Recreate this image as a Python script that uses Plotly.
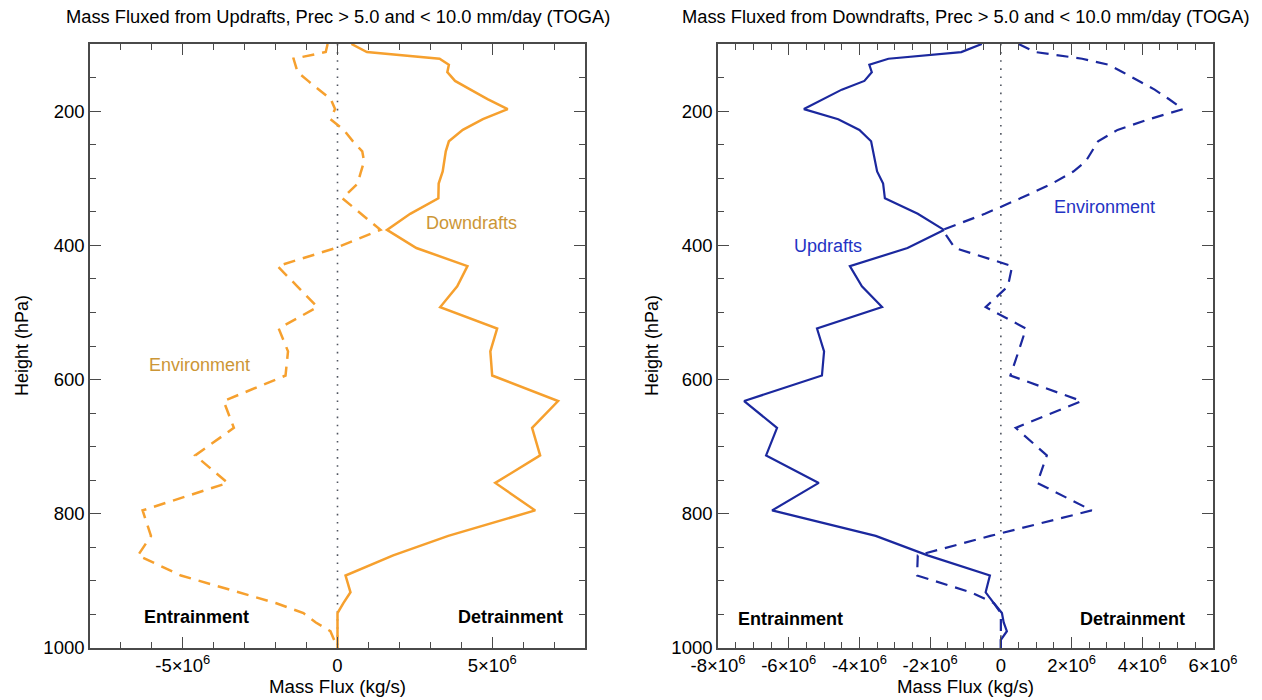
import plotly.graph_objects as go

# Pressure levels (hPa) shared by all profiles
pressure = [100, 112, 122, 131, 142, 155, 168, 182, 197, 212, 228, 245, 260, 275, 290,
            308, 330, 353, 377, 404, 431, 461, 492, 524, 558, 594, 632, 672, 713, 754,
            795, 833, 862, 892, 917, 933, 948, 962, 975, 988, 1000]

# Left panel: mass fluxed from updrafts (units of 1e6 kg/s)
up_downdrafts = [0.45, 0.95, 3.3, 3.6, 3.55, 3.8, 4.3, 4.85, 5.5, 4.7, 4.05, 3.6, 3.5, 3.45, 3.4,
                 3.27, 3.26, 2.35, 1.6, 2.55, 4.2, 3.87, 3.32, 5.16, 4.94, 5.0, 7.13, 6.29, 6.55, 5.1,
                 6.39, 3.58, 1.8, 0.26, 0.42, 0.19, 0.0, 0.0, 0.0, 0.0, 0.0]
up_environment = [-0.32, -0.38, -1.42, -1.35, -1.29, -0.95, -0.6, -0.22, -0.08, -0.23, 0.2, 0.5, 0.8, 0.86, 0.76,
                  0.65, 0.16, 0.75, 1.39, -0.06, -1.94, -1.3, -0.65, -1.9, -1.6, -1.68, -3.68, -3.35, -4.6, -3.55,
                  -6.3, -6.03, -6.45, -5.06, -3.2, -2.0, -1.1, -0.7, -0.23, -0.1, 0.0]

# Right panel: mass fluxed from downdrafts (units of 1e6 kg/s)
dn_updrafts = [-0.54, -1.12, -3.18, -3.72, -3.65, -3.86, -4.5, -5.0, -5.57, -4.6, -4.0, -3.67, -3.62, -3.57, -3.5,
               -3.33, -3.28, -2.35, -1.61, -2.64, -4.27, -3.93, -3.36, -5.2, -5.0, -5.06, -7.26, -6.33, -6.64, -5.15,
               -6.47, -3.54, -2.07, -0.31, -0.43, -0.2, 0.03, 0.08, 0.17, 0.0, 0.0]
dn_environment = [0.5, 0.98, 2.3, 3.05, 3.45, 3.9, 4.35, 4.75, 5.15, 4.2, 3.3, 2.75, 2.58, 2.4, 2.05,
                  1.45, 0.55, -0.45, -1.65, -1.3, 0.32, 0.2, -0.43, 0.71, 0.5, 0.27, 2.28, 0.42, 1.3, 1.03,
                  2.57, -0.3, -2.35, -2.37, -0.85, -0.2, 0.0, 0.0, 0.0, 0.0, 0.0]

SCALE = 1e6
left_title = "Mass Fluxed from Updrafts, Prec > 5.0 and < 10.0 mm/day (TOGA)"
right_title = "Mass Fluxed from Downdrafts, Prec > 5.0 and < 10.0 mm/day (TOGA)"

left_xticks = [-5e6, 0, 5e6]
left_xlabels = ["-5×10<sup>6</sup>", "0", "5×10<sup>6</sup>"]
right_xticks = [-8e6, -6e6, -4e6, -2e6, 0, 2e6, 4e6, 6e6]
right_xlabels = ["-8×10<sup>6</sup>", "-6×10<sup>6</sup>", "-4×10<sup>6</sup>", "-2×10<sup>6</sup>",
                 "0", "2×10<sup>6</sup>", "4×10<sup>6</sup>", "6×10<sup>6</sup>"]
yticks = [200, 400, 600, 800, 1000]

ORANGE = "#F6A02E"
ORANGE_TEXT = "#CC9636"
BLUE = "#1B289E"
BLUE_TEXT = "#2433C4"
FONT = "Liberation Sans, Arial, sans-serif"
FRAME = "#4a4a4a"

fig = go.Figure()

def scaled(vals):
    return [v * SCALE for v in vals]

fig.add_trace(go.Scatter(x=scaled(up_downdrafts), y=pressure, mode="lines",
                         line=dict(color=ORANGE, width=2.5), xaxis="x", yaxis="y"))
fig.add_trace(go.Scatter(x=scaled(up_environment), y=pressure, mode="lines",
                         line=dict(color=ORANGE, width=2.5, dash="12px,8px"), xaxis="x", yaxis="y"))
fig.add_trace(go.Scatter(x=scaled(dn_updrafts), y=pressure, mode="lines",
                         line=dict(color=BLUE, width=2.2), xaxis="x2", yaxis="y2"))
fig.add_trace(go.Scatter(x=scaled(dn_environment), y=pressure, mode="lines",
                         line=dict(color=BLUE, width=2.2, dash="12px,8px"), xaxis="x2", yaxis="y2"))

# zero reference lines
for xr, yr in (("x", "y"), ("x2", "y2")):
    fig.add_shape(type="line", xref=xr, yref=yr, x0=0, x1=0, y0=100, y1=1000,
                  line=dict(color="#505560", width=1.6, dash="1.6px,6.5px"), layer="below")

W, H = 1262, 700
ldom = [90 / W, 585 / W]
rdom = [718 / W, 1213 / W]
ydom = [1 - 648 / H, 1 - 44 / H]
TICK_SIZE = 18.5

def xaxis(dom, rng, tv, tt, minor_dtick, anchor):
    return dict(domain=dom, range=rng, tickmode="array", tickvals=tv, ticktext=tt,
                ticks="inside", ticklen=11, tickwidth=1.3, tickcolor=FRAME,
                minor=dict(dtick=minor_dtick, tick0=0, ticks="inside", ticklen=6,
                           tickwidth=1.3, tickcolor=FRAME),
                showline=True, linecolor=FRAME, linewidth=1.6, mirror="ticks",
                showgrid=False, zeroline=False, anchor=anchor, automargin=False,
                tickfont=dict(family=FONT, size=TICK_SIZE, color="black"))

def yaxis(anchor):
    return dict(domain=ydom, range=[1000, 100], tickmode="array", tickvals=yticks,
                ticktext=[str(v) for v in yticks],
                ticks="inside", ticklen=11, tickwidth=1.3, tickcolor=FRAME,
                minor=dict(dtick=50, tick0=0, ticks="inside", ticklen=6,
                           tickwidth=1.3, tickcolor=FRAME),
                showline=True, linecolor=FRAME, linewidth=1.6, mirror="ticks",
                showgrid=False, zeroline=False, anchor=anchor, automargin=False,
                tickfont=dict(family=FONT, size=TICK_SIZE, color="black"))

fig.update_layout(
    width=W, height=H, margin=dict(l=0, r=0, t=0, b=0, autoexpand=False),
    paper_bgcolor="white", plot_bgcolor="white", showlegend=False,
    xaxis=xaxis(ldom, [-8e6, 8e6], left_xticks, left_xlabels, 1e6, "y"),
    yaxis=yaxis("x"),
    xaxis2=xaxis(rdom, [-8e6, 6e6], right_xticks, right_xlabels, 5e5, "y2"),
    yaxis2=yaxis("x2"),
)

ann = []
lc = (ldom[0] + ldom[1]) / 2
rc = (rdom[0] + rdom[1]) / 2

def paper_text(text, x, y, size, angle=0):
    ann.append(dict(x=x, y=y, xref="paper", yref="paper", text=text, textangle=angle,
                    xanchor="center", yanchor="middle", showarrow=False,
                    font=dict(family=FONT, size=size, color="black")))

for cx, title, ytx in ((lc, left_title, 22 / W), (rc, right_title, 652 / W)):
    paper_text(title, cx, 1 - 16 / H, 18.3)
    paper_text("Mass Flux (kg/s)", cx, 1 - 686 / H, 18.7)
    paper_text("Height (hPa)", ytx, (ydom[0] + ydom[1]) / 2, 18, angle=-90)

def label(text, x, y, xr, yr, color, bold=False):
    t = f"<b>{text}</b>" if bold else text
    ann.append(dict(x=x, y=y, xref=xr, yref=yr, text=t, showarrow=False,
                    xanchor="center", yanchor="middle",
                    font=dict(family=FONT, size=18, color=color)))

label("Downdrafts", 4.32e6, 366, "x", "y", ORANGE_TEXT)
label("Environment", -4.45e6, 578, "x", "y", ORANGE_TEXT)
label("Entrainment", -4.55e6, 954, "x", "y", "black", bold=True)
label("Detrainment", 5.58e6, 954, "x", "y", "black", bold=True)
label("Environment", 2.93e6, 343, "x2", "y2", BLUE_TEXT)
label("Updrafts", -4.9e6, 401, "x2", "y2", BLUE_TEXT)
label("Entrainment", -5.94e6, 957, "x2", "y2", "black", bold=True)
label("Detrainment", 3.72e6, 957, "x2", "y2", "black", bold=True)

fig.update_layout(annotations=ann)
fig.write_html("out.html")
